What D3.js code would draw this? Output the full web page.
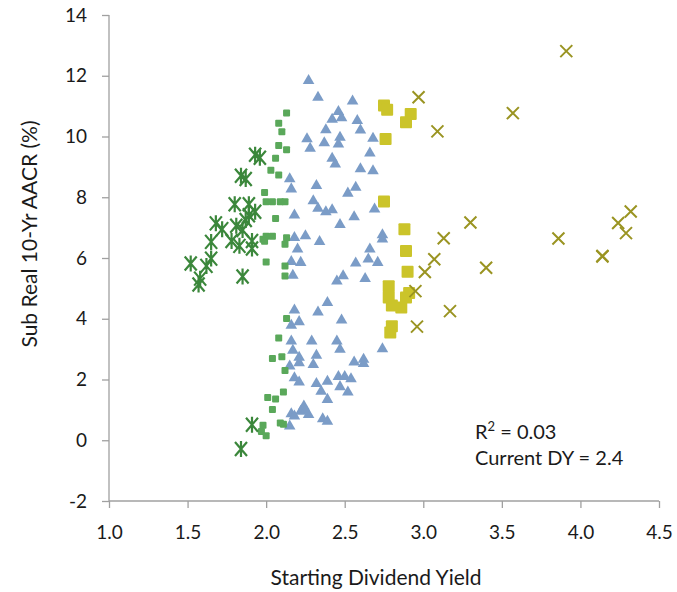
<!DOCTYPE html>
<html>
<head>
<meta charset="utf-8">
<script src="https://cdn.jsdelivr.net/npm/d3@7"></script>
<style>
  body { margin: 0; background: #fff; }
  svg text { font-family: Lato, "Open Sans", sans-serif; fill: #1a1a1a; }
</style>
</head>
<body>
<div class="chart"></div>
<script>
// [dividend yield, 10-yr real return]
const asteriskPts = [
  [1.93, 9.40], [1.96, 9.30], [1.84, 8.71], [1.87, 8.60], [1.80, 7.77], [1.89, 7.77],
  [1.93, 7.52], [1.89, 7.41], [1.87, 7.25], [1.68, 7.14], [1.72, 6.95], [1.81, 7.06],
  [1.85, 6.92], [1.65, 6.53], [1.78, 6.56], [1.83, 6.40], [1.91, 6.56], [1.91, 6.31],
  [1.65, 5.98], [1.52, 5.82], [1.62, 5.74], [1.58, 5.32], [1.57, 5.13], [1.85, 5.39],
  [1.91, 0.51], [1.84, -0.29]
];
const smallSquarePts = [
  [2.13, 10.77], [2.08, 10.44], [2.10, 10.16], [2.08, 9.70], [2.13, 9.56], [2.06, 9.28],
  [2.03, 8.89], [2.08, 8.73], [1.99, 8.16], [2.00, 7.85], [2.04, 7.85], [2.09, 7.85],
  [2.12, 7.85], [2.06, 7.30], [1.98, 6.62], [2.00, 6.72], [2.04, 6.72], [1.99, 6.55],
  [2.13, 6.67], [2.12, 6.45], [2.00, 5.87], [2.12, 5.74], [2.12, 5.41], [2.13, 4.01],
  [2.08, 3.37], [2.04, 2.69], [2.10, 2.75], [2.12, 2.30], [2.11, 1.59], [2.01, 1.41],
  [2.06, 1.36], [2.04, 1.01], [2.09, 0.57], [2.11, 0.53], [1.98, 0.49], [1.97, 0.29],
  [2.00, 0.15]
];
const trianglePts = [
  [2.27, 11.84], [2.33, 11.29], [2.55, 11.16], [2.46, 10.82], [2.48, 10.61], [2.42, 10.56],
  [2.58, 10.52], [2.60, 10.21], [2.38, 10.22], [2.26, 9.92], [2.37, 9.79], [2.47, 9.97],
  [2.46, 9.75], [2.28, 9.61], [2.68, 9.94], [2.66, 9.45], [2.42, 9.28], [2.44, 9.09],
  [2.60, 8.93], [2.68, 8.87], [2.15, 8.60], [2.16, 8.27], [2.32, 8.38], [2.57, 8.32],
  [2.52, 8.13], [2.30, 7.88], [2.33, 7.63], [2.38, 7.52], [2.42, 7.58], [2.56, 7.35],
  [2.69, 7.61], [2.18, 7.41], [2.47, 7.10], [2.18, 6.67], [2.25, 6.73], [2.34, 6.54],
  [2.20, 6.29], [2.74, 6.76], [2.74, 6.62], [2.66, 6.29], [2.16, 5.88], [2.22, 5.85],
  [2.57, 5.83], [2.65, 5.96], [2.71, 5.85], [2.17, 5.43], [2.45, 5.24], [2.49, 5.41],
  [2.63, 5.32], [2.39, 4.53], [2.18, 4.28], [2.33, 4.22], [2.21, 3.90], [2.16, 3.78],
  [2.48, 3.95], [2.74, 3.01], [2.16, 3.26], [2.29, 3.26], [2.45, 3.26], [2.17, 2.96],
  [2.47, 2.99], [2.32, 2.79], [2.21, 2.73], [2.21, 2.55], [2.15, 2.44], [2.30, 2.49],
  [2.56, 2.57], [2.62, 2.66], [2.62, 2.52], [2.18, 2.05], [2.21, 1.91], [2.32, 1.86],
  [2.39, 1.94], [2.46, 2.09], [2.50, 2.09], [2.54, 2.02], [2.35, 1.61], [2.47, 1.76],
  [2.52, 1.58], [2.39, 1.34], [2.24, 1.12], [2.22, 0.95], [2.27, 0.84], [2.16, 0.87],
  [2.18, 0.79], [2.25, 0.98], [2.36, 0.70], [2.39, 0.62], [2.15, 0.46]
];
const bigSquarePts = [
  [2.75, 11.02], [2.77, 10.88], [2.92, 10.74], [2.89, 10.47], [2.76, 9.92], [2.75, 7.86],
  [2.88, 6.95], [2.89, 6.23], [2.90, 5.55], [2.78, 5.07], [2.78, 4.70], [2.80, 4.44],
  [2.86, 4.37], [2.89, 4.70], [2.91, 4.85], [2.80, 3.75], [2.79, 3.55]
];
const crossPts = [
  [3.91, 12.81], [2.97, 11.29], [3.57, 10.77], [3.09, 10.17], [4.32, 7.53], [3.30, 7.17],
  [4.24, 7.15], [4.29, 6.82], [3.13, 6.65], [3.86, 6.64], [4.14, 6.07], [4.14, 6.05],
  [3.07, 5.96], [3.01, 5.54], [3.40, 5.68], [2.95, 4.91], [3.17, 4.25], [2.96, 3.74]
];
const xTicks = [1.0, 1.5, 2.0, 2.5, 3.0, 3.5, 4.0, 4.5];
const yTicks = [-2, 0, 2, 4, 6, 8, 10, 12, 14];
const rSquared = "0.03";
const currentDY = "2.4";

const width = 677, height = 592;
const margin = {left: 109, right: 18, top: 15, bottom: 91};

let svg = d3.select('.chart').append('svg').attr('width', width).attr('height', height);

let x = d3.scaleLinear().domain([1, 4.5]).range([margin.left, width - margin.right]);
let y = d3.scaleLinear().domain([-2, 14]).range([height - margin.bottom, margin.top]);

// axes
let xAxis = svg.append('g').attr('transform', 'translate(0,' + y(-2) + ')')
    .call(d3.axisBottom(x).tickValues(xTicks).tickFormat(d => d.toFixed(1)).tickSize(7).tickPadding(18));
let yAxis = svg.append('g').attr('transform', 'translate(' + x(1) + ',0)')
    .call(d3.axisLeft(y).tickValues(yTicks).tickFormat(d => String(d)).tickSize(7).tickPadding(15));
[xAxis, yAxis].forEach(a => {
    a.selectAll('path, line').attr('stroke', '#a0a0a0').attr('stroke-width', 1.3);
    a.selectAll('text').style('font-size', '19px').attr('fill', '#1a1a1a');
});
yAxis.select('.domain').attr('d', 'M0,' + y(14) + 'V' + y(-2));
xAxis.select('.domain').attr('d', 'M' + x(1) + ',0H' + x(4.5));

// axis titles
svg.append('text').attr('x', 376).attr('y', 585)
    .attr('text-anchor', 'middle').style('font-size', '21px').text('Starting Dividend Yield');
svg.append('text').attr('transform', 'translate(37,234) rotate(-90)')
    .attr('text-anchor', 'middle').style('font-size', '21px').text('Sub Real 10-Yr AACR (%)');

// markers
let plot = svg.append('g');

plot.selectAll('.tri').data(trianglePts).enter().append('path')
    .attr('d', d3.symbol().type(d3.symbolTriangle).size(58))
    .attr('transform', d => 'translate(' + x(d[0]) + ',' + y(d[1]) + ')')
    .attr('fill', '#7b9cc7');

plot.selectAll('.sq').data(smallSquarePts).enter().append('rect')
    .attr('x', d => x(d[0]) - 3.5).attr('y', d => y(d[1]) - 3.5)
    .attr('width', 7).attr('height', 7).attr('rx', 1)
    .attr('fill', '#5aa85a');

plot.selectAll('.bsq').data(bigSquarePts).enter().append('rect')
    .attr('x', d => x(d[0]) - 6).attr('y', d => y(d[1]) - 6)
    .attr('width', 12).attr('height', 12).attr('rx', 1)
    .attr('fill', '#cbc42a');

let star = 'M-6,-7L6,7M-6,7L6,-7M0,-8V8';
plot.selectAll('.ast').data(asteriskPts).enter().append('path')
    .attr('d', star)
    .attr('transform', d => 'translate(' + x(d[0]) + ',' + y(d[1]) + ')')
    .attr('stroke', '#3b873b').attr('stroke-width', 2.2).attr('fill', 'none');

let cross = 'M-6,-6L6,6M-6,6L6,-6';
plot.selectAll('.crs').data(crossPts).enter().append('path')
    .attr('d', cross)
    .attr('transform', d => 'translate(' + x(d[0]) + ',' + y(d[1]) + ')')
    .attr('stroke', '#9a9422').attr('stroke-width', 2).attr('fill', 'none');

// annotation
let note = svg.append('text').attr('x', 475).attr('y', 439).style('font-size', '20px');
note.append('tspan').text('R');
note.append('tspan').attr('dy', -8).style('font-size', '13px').text('2');
note.append('tspan').attr('dy', 8).text(' = ' + rSquared);
svg.append('text').attr('x', 475).attr('y', 465).style('font-size', '20px').text('Current DY = ' + currentDY);
</script>
</body>
</html>
